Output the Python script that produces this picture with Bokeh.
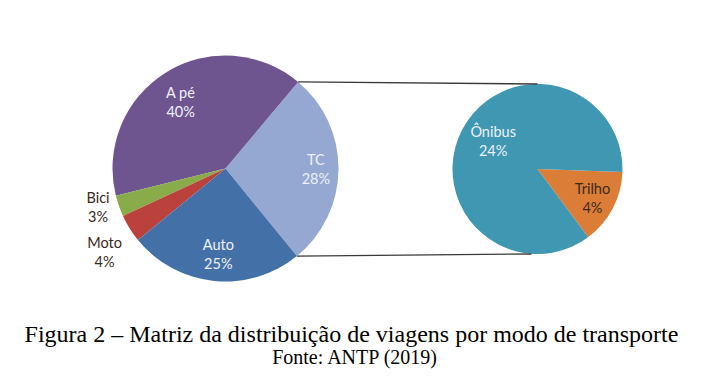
import math
from bokeh.plotting import figure
from bokeh.models import Range1d
from bokeh.core.properties import value
from bokeh.embed import file_html
from bokeh.resources import INLINE

# ---- data ----
main_labels = ["TC", "A pé", "Bici", "Moto", "Auto"]
main_values = [28, 40, 3, 4, 25]
main_colors = ["#94A8D2", "#6F5590", "#8AAB4A", "#BA413C", "#4470A8"]

sub_labels = ["Trilho", "Ônibus"]
sub_values = [4, 24]
sub_colors = ["#DC7D37", "#3F97B2"]

title_text = "Figura 2 – Matriz da distribuição de viagens por modo de transporte"
source_text = "Fonte: ANTP (2019)"

# ---- layout (image pixel coordinates, y measured upward) ----
H = 388
def Y(y_img):
    return H - y_img

main_cx, main_cy, main_r = 225, Y(168), 113
sub_cx, sub_cy, sub_r = 537, Y(168.5), 85
main_start = -50.8   # degrees, start of TC slice
sub_end = -2.0       # degrees, upper edge of Trilho slice

main_label_f = [0.80, 0.71, 1.18, 1.30, 0.76]
main_label_da = [0.0, 2.0, -2.4, 2.6, 1.0]
main_label_dark = [False, False, True, True, False]
sub_label_f = [0.73, 0.62]
sub_label_da = [0.0, -5.0]
sub_label_dark = [True, False]

p = figure(width=685, height=372, output_backend="svg", toolbar_location=None,
           x_range=Range1d(0, 685), y_range=Range1d(16, 388),
           min_border=0, outline_line_color=None)
p.axis.visible = False
p.grid.visible = False
p.background_fill_color = "white"

def wedges(vals, start_deg, direction=1):
    tot = sum(vals)
    starts, ends, mids = [], [], []
    a = start_deg
    for v in vals:
        b = a + direction * 360.0 * v / tot
        s, e = (a, b) if direction == 1 else (b, a)
        starts.append(math.radians(s))
        ends.append(math.radians(e))
        mids.append((a + b) / 2)
        a = b
    return starts, ends, mids

ms, me, mm = wedges(main_values, main_start)
p.wedge(x=[main_cx] * len(main_values), y=[main_cy] * len(main_values), radius=main_r,
        start_angle=ms, end_angle=me, fill_color=main_colors, line_color=None)

ss, se, sm = wedges(sub_values, sub_end, direction=-1)
p.wedge(x=[sub_cx] * len(sub_values), y=[sub_cy] * len(sub_values), radius=sub_r,
        start_angle=ss, end_angle=se, fill_color=sub_colors, line_color=None)

# connector lines from TC slice edges to the sub pie
tc_top = me[0]
tc_bot = ms[0]
p.line([main_cx + main_r * math.cos(tc_top), sub_cx],
       [main_cy + main_r * math.sin(tc_top), sub_cy + sub_r], line_color="#3a3a3a", line_width=1.3)
p.line([main_cx + main_r * math.cos(tc_bot), sub_cx - 6],
       [main_cy + main_r * math.sin(tc_bot), sub_cy - sub_r], line_color="#3a3a3a", line_width=1.3)

font = value("Lato")

def labels(cx, cy, r, names, vals, mids, fs, das, darks):
    for n, v, m, f, da, d in zip(names, vals, mids, fs, das, darks):
        ang = math.radians(m + da)
        x = cx + f * r * math.cos(ang)
        y = cy + f * r * math.sin(ang)
        col = "#3b2a1e" if d else "#EEF2FA"
        p.text(x=[x], y=[y + 9.5], text=[n], text_font=font, text_font_size="14.5px",
               text_color=col, text_align="center", text_baseline="middle")
        p.text(x=[x], y=[y - 9.5], text=[f"{v}%"], text_font=font, text_font_size="14.5px",
               text_color=col, text_align="center", text_baseline="middle")

labels(main_cx, main_cy, main_r, main_labels, main_values, mm, main_label_f, main_label_da, main_label_dark)
labels(sub_cx, sub_cy, sub_r, sub_labels, sub_values, sm, sub_label_f, sub_label_da, sub_label_dark)

p.text(x=[351], y=[Y(333)], text=[title_text], text_font=value("Liberation Serif"),
       text_font_size="24px", text_color="black", text_align="center", text_baseline="middle")
p.text(x=[355], y=[Y(356)], text=[source_text], text_font=value("Liberation Serif"),
       text_font_size="20px", text_color="black", text_align="center", text_baseline="middle")

open("out.html", "w").write(file_html(p, INLINE))
